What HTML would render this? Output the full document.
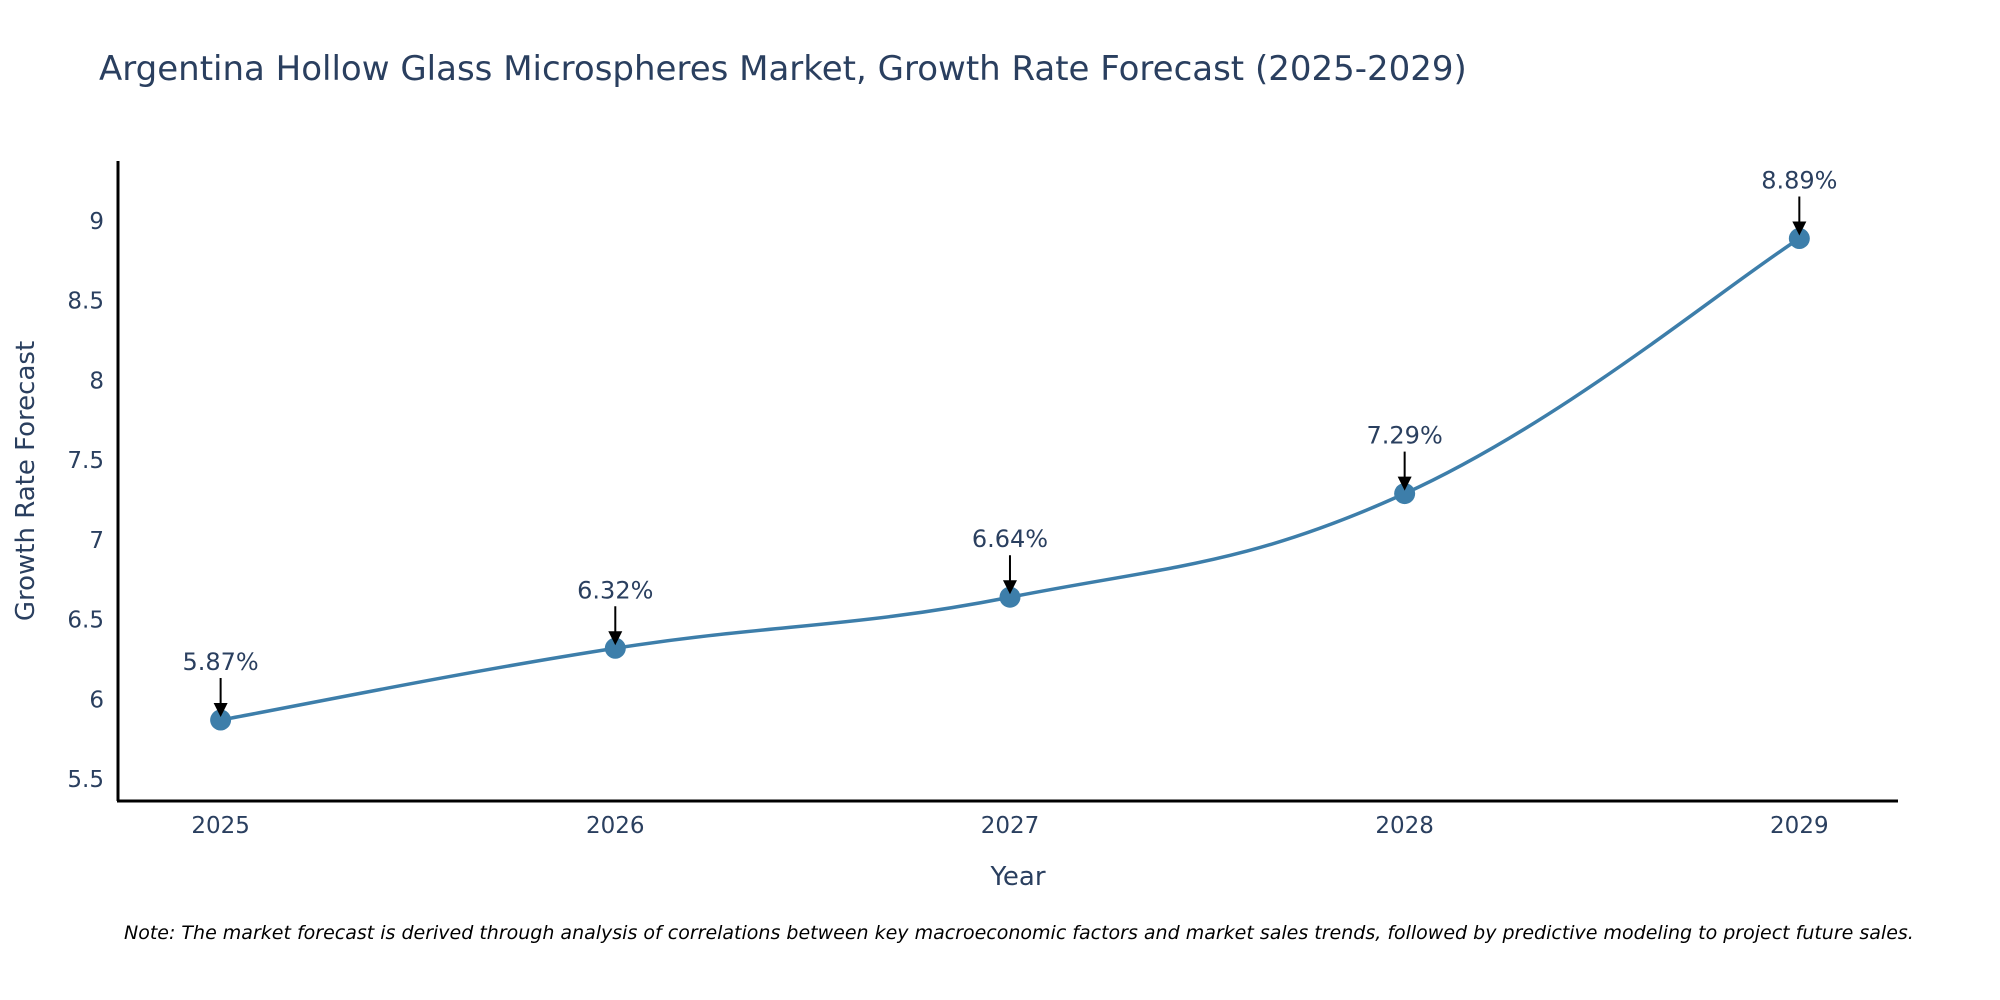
<!DOCTYPE html>
<html><head><meta charset="utf-8"><style>
html,body{margin:0;padding:0;background:#fff;}
svg{display:block;font-family:"DejaVu Sans","Liberation Sans",sans-serif;}
</style></head><body>
<svg id="chart" width="2000" height="1000" viewBox="0 0 2000 1000">
<text x="99" y="80" font-size="34" fill="#2a3f5f">Argentina Hollow Glass Microspheres Market, Growth Rate Forecast (2025-2029)</text>
<g id="yticks"></g>
<g id="xticks"></g>
<line x1="118" y1="161" x2="118" y2="801" stroke="#000" stroke-width="3"/>
<line x1="117" y1="801" x2="1898" y2="801" stroke="#000" stroke-width="3"/>
<text transform="translate(34,481) rotate(-90)" text-anchor="middle" font-size="26" fill="#2a3f5f">Growth Rate Forecast</text>
<text x="1018" y="885" text-anchor="middle" font-size="26" fill="#2a3f5f">Year</text>
<g id="series"></g>
<text x="124" y="939" font-size="19" font-style="italic" fill="#000">Note: The market forecast is derived through analysis of correlations between key macroeconomic factors and market sales trends, followed by predictive modeling to project future sales.</text>
</svg>
<script>
const years = [2025, 2026, 2027, 2028, 2029];
const growth = [5.87, 6.32, 6.64, 7.29, 8.89];
const labels = ["5.87%", "6.32%", "6.64%", "7.29%", "8.89%"];
const yTicks = [5.5, 6, 6.5, 7, 7.5, 8, 8.5, 9];
const yTickLabels = ["5.5", "6", "6.5", "7", "7.5", "8", "8.5", "9"];

const NS = "http://www.w3.org/2000/svg";
const X0 = 118, X1 = 1898, Y0 = 801, Y1 = 161;
const xMin = 2024.74, xMax = 2029.25, yMin = 5.362, yMax = 9.376;
function xs(v){ return X0 + (v - xMin) / (xMax - xMin) * (X1 - X0); }
function ys(v){ return Y0 - (v - yMin) / (yMax - yMin) * (Y0 - Y1); }
function mk(tag, attrs, parent){
  const e = document.createElementNS(NS, tag);
  for (const k in attrs) e.setAttribute(k, attrs[k]);
  parent.appendChild(e);
  return e;
}
const yg = document.getElementById('yticks');
yTicks.forEach((t, i) => {
  const el = mk('text', {x: 104, y: ys(t) + 8, 'text-anchor': 'end', 'font-size': 23, fill: '#2a3f5f'}, yg);
  el.textContent = yTickLabels[i];
  
  
});
const xg = document.getElementById('xticks');
years.forEach(yr => {
  const el = mk('text', {x: xs(yr), y: 833, 'text-anchor': 'middle', 'font-size': 23, fill: '#2a3f5f'}, xg);
  el.textContent = String(yr);
  
  
});
const sg = document.getElementById('series');
const pts = years.map((yr, i) => [xs(yr), ys(growth[i])]);
let d = 'M' + pts[0][0] + ',' + pts[0][1];
const tension = 0.2;
for (let i = 0; i < pts.length - 1; i++) {
  const p0 = pts[i - 1] || pts[i], p1 = pts[i], p2 = pts[i + 1], p3 = pts[i + 2] || pts[i + 1];
  const c1 = [p1[0] + (p2[0] - p0[0]) * tension, p1[1] + (p2[1] - p0[1]) * tension];
  const c2 = [p2[0] - (p3[0] - p1[0]) * tension, p2[1] - (p3[1] - p1[1]) * tension];
  d += ' C' + c1[0] + ',' + c1[1] + ' ' + c2[0] + ',' + c2[1] + ' ' + p2[0] + ',' + p2[1];
}
const line = mk('path', {d: d, fill: 'none', stroke: '#3d7eaa', 'stroke-width': 3.5}, sg);


pts.forEach((p, i) => {
  const c = mk('circle', {cx: p[0], cy: p[1], r: 10.5, fill: '#3d7eaa'}, sg);
  
  
  const a = mk('line', {x1: p[0], y1: p[1] - 42, x2: p[0], y2: p[1] - 14, stroke: '#000', 'stroke-width': 2}, sg);
  
  
  const h = mk('polygon', {points: (p[0]-7)+','+(p[1]-17)+' '+(p[0]+7)+','+(p[1]-17)+' '+p[0]+','+(p[1]-3), fill: '#000'}, sg);
  
  
  const t = mk('text', {x: p[0], y: p[1] - 50, 'text-anchor': 'middle', 'font-size': 24, fill: '#2a3f5f'}, sg);
  t.textContent = labels[i];
  
  
});
</script>
</body></html>
